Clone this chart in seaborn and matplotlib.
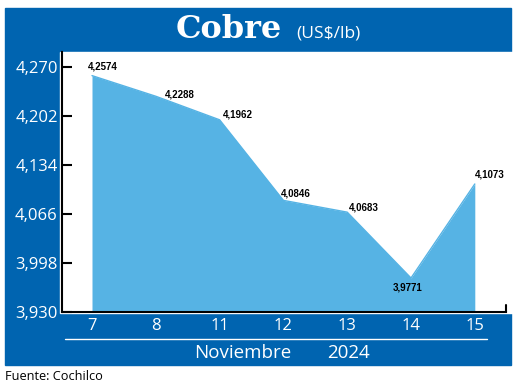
import numpy as np
import matplotlib
matplotlib.use('Agg')
import matplotlib.pyplot as plt
import seaborn as sns
from matplotlib.patches import Rectangle
from matplotlib.lines import Line2D

# Data
days = ['7', '8', '11', '12', '13', '14', '15']
prices = [4.2574, 4.2288, 4.1962, 4.0846, 4.0683, 3.9771, 4.1073]
price_labels = ['4,2574', '4,2288', '4,1962', '4,0846', '4,0683', '3,9771', '4,1073']
y_ticks = [3.930, 3.998, 4.066, 4.134, 4.202, 4.270]
y_tick_labels = ['3,930', '3,998', '4,066', '4,134', '4,202', '4,270']

BLUE = '#0064B0'
LIGHT = '#56B3E4'
W, H = 520, 387

sns.set_theme(style='white')
plt.rcParams['font.family'] = ['Open Sans', 'DejaVu Sans']

fig = plt.figure(figsize=(W / 100, H / 100), dpi=100)
fig.patch.set_facecolor('white')


def fx(px):
    return px / W


def fy(py):
    return (H - py) / H


# blue frame and white plot window
fig.patches.append(Rectangle((fx(5), fy(365)), fx(511) - fx(5), fy(8) - fy(365),
                             transform=fig.transFigure, color=BLUE, zorder=-2))
fig.patches.append(Rectangle((fx(60), fy(313)), fx(520) - fx(60), fy(52) - fy(313),
                             transform=fig.transFigure, color='white', zorder=-1))

# axes: left spine at 62px, bottom at 312px
ax = fig.add_axes([fx(62), fy(312), fx(506) - fx(62), fy(52) - fy(312)])
ax.set_facecolor('none')
ax.set_zorder(3)

pos = np.arange(len(days))
ax.fill_between(pos, prices, 3.93, color=LIGHT, lw=0, zorder=2)
sns.lineplot(x=pos, y=prices, color=LIGHT, lw=1, ax=ax, zorder=3)

px_per_unit = 63.8
ax.set_xlim(-30 / px_per_unit, (506 - 92) / px_per_unit)
ax.set_ylim(3.930, 3.930 + 260 / 722)

ax.set_xticks(pos)
ax.set_xticklabels(days)
ax.set_yticks(y_ticks)
ax.set_yticklabels(y_tick_labels)
ax.tick_params(axis='x', length=0, pad=4, labelsize=12, labelcolor='white')
ax.tick_params(axis='y', direction='in', length=7, width=1.5, color='black',
               pad=3, labelsize=12, labelcolor='white', left=True)

for s in ['top', 'right']:
    ax.spines[s].set_visible(False)
for s in ['left', 'bottom']:
    ax.spines[s].set_color('black')
    ax.spines[s].set_linewidth(1.5)
ax.grid(False)
ax.set_xlabel('')
ax.set_ylabel('')

# small upturn at the right end of the baseline
fig.lines.append(Line2D([fx(506), fx(506)], [fy(312), fy(305)], transform=fig.transFigure,
                        color='black', lw=1.5, zorder=5))

# value labels
offsets = [(-4, 4, 'left', 'bottom'), (9, 2, 'left', 'center'), (3, 5, 'left', 'center'),
           (-3, 7, 'left', 'center'), (2, 5, 'left', 'center'), (-3, -5, 'center', 'top'),
           (0, 4, 'left', 'bottom')]
for x, y, lab, (dx, dy, ha, va) in zip(pos, prices, price_labels, offsets):
    ax.annotate(lab, (x, y), xytext=(dx * 0.72, dy * 0.72), textcoords='offset points',
                ha=ha, va=va, fontsize=7, fontweight='bold', color='black',
                family=['Liberation Sans', 'DejaVu Sans'],
                zorder=6, annotation_clip=False)

# title
fig.text(fx(282), fy(38), 'Cobre', ha='right', va='baseline', color='white',
         fontsize=23, fontweight='bold', family=['DejaVu Serif'])
fig.text(fx(296), fy(37), '(US$/lb)', ha='left', va='baseline', color='white', fontsize=12.5)

# month band
fig.lines.append(Line2D([fx(65), fx(487)], [fy(339), fy(339)], transform=fig.transFigure,
                        color='white', lw=1, zorder=5))
fig.text(fx(243), fy(353), 'Noviembre', ha='center', va='center', color='white', fontsize=13.5)
fig.text(fx(348), fy(353), '2024', ha='center', va='center', color='white', fontsize=13.5)

fig.text(fx(5), fy(377), 'Fuente: Cochilco', ha='left', va='center', color='black', fontsize=9.2)

fig.savefig('out.png', dpi=100, facecolor='white')
